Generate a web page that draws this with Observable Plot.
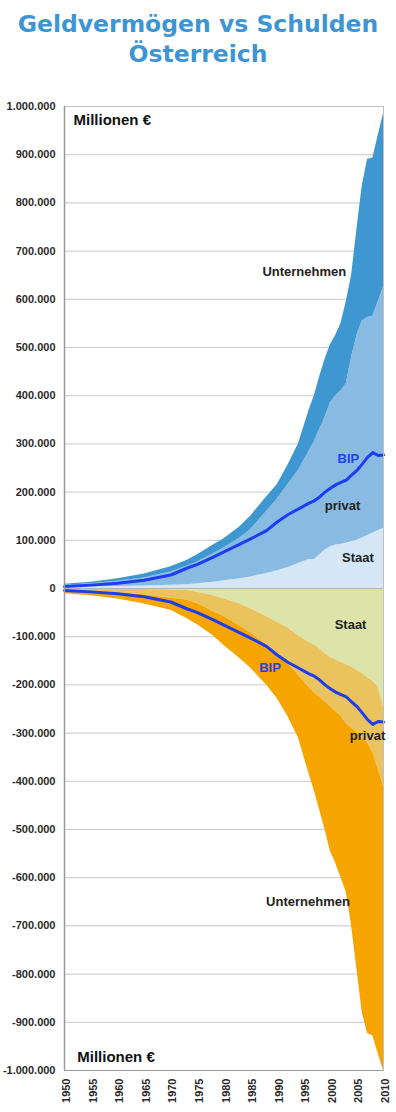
<!DOCTYPE html>
<html><head><meta charset="utf-8">
<script src="https://cdn.jsdelivr.net/npm/d3@7"></script>
<script src="https://cdn.jsdelivr.net/npm/@observablehq/plot@0.6"></script>
<style>
body{margin:0;background:#fff;width:396px;}
#title{height:80px;box-sizing:border-box;padding-top:9px;text-align:center;font:bold 23.5px/30px "DejaVu Sans",Verdana,sans-serif;color:#3d95d4;}
</style></head><body>
<div id="title">Geldvermögen vs Schulden<br>Österreich</div>
<div id="chart"></div>
<script>
// Millionen €
const years = [1950,1955,1960,1965,1970,1973,1975,1978,1980,1983,1985,1988,1990,1992,1994,1996,1997,1998,1999,2000,2001,2002,2003,2004,2005,2006,2007,2008,2009,2010];

// Geldvermögen (positive)
const vermStaat = [2000,3000,4000,5000,7000,8000,10000,13000,16000,20000,24000,31000,37000,43000,52000,60000,60000,70000,80000,86000,90000,92000,94000,97000,100000,105000,110000,115000,120000,125000];
const vermPrivat = [5000,7000,11000,17000,27000,38000,45000,59000,68000,85000,98000,129000,148000,172000,193000,225000,245000,260000,275000,299000,310000,318000,331000,383000,425000,450000,452000,450000,475000,500000];
const vermUnternehmen = [2000,3000,5000,8000,11000,12000,15000,18000,19000,23000,28000,30000,30000,40000,55000,85000,95000,110000,120000,120000,125000,140000,170000,170000,220000,280000,328000,328000,345000,360000];

// Schulden (shown negative)
const schuldStaat = [1000,1000,2000,2000,3000,4000,8000,15000,22000,32000,42000,58000,70000,82000,98000,112000,117000,125000,135000,143000,148000,153000,158000,163000,170000,176000,185000,192000,205000,245000];
const schuldPrivat = [3000,5000,7000,11000,17000,20000,23000,33000,36000,46000,50000,58000,65000,73000,82000,93000,100000,100000,100000,102000,107000,112000,122000,127000,130000,134000,135000,148000,170000,165000];
const schuldUnternehmen = [7000,9000,13000,19000,25000,38000,44000,50000,60000,67000,73000,84000,93000,110000,130000,180000,203000,235000,265000,300000,315000,335000,350000,410000,490000,570000,603000,588000,590000,590000];

// BIP
const bip = [4000,7000,11000,17000,28000,42000,50000,65000,76000,92000,103000,120000,138000,153000,165000,177000,182000,190000,200000,208000,215000,220000,225000,235000,245000,258000,272000,282000,276000,277000];

const xTicks = [1950,1955,1960,1965,1970,1975,1980,1985,1990,1995,2000,2005,2010];
const yTicks = [-1000000,-900000,-800000,-700000,-600000,-500000,-400000,-300000,-200000,-100000,0,100000,200000,300000,400000,500000,600000,700000,800000,900000,1000000];

const layerOrder = ["Staat+","privat+","Unternehmen+","Staat-","privat-","Unternehmen-"];
const layerColors = ["#d5e6f4","#88bae2","#3f97d1","#dde4a9","#eac35f","#f5a400"];

const labels = [
  {text:"Unternehmen", year:1995.1, value:656000, color:"#222"},
  {text:"BIP", year:2003.4, value:270000, color:"#2241e6"},
  {text:"privat", year:2002.3, value:172000, color:"#222"},
  {text:"Staat", year:2005.2, value:64000, color:"#222"},
  {text:"Staat", year:2003.8, value:-75000, color:"#222"},
  {text:"BIP", year:1988.65, value:-164000, color:"#2241e6"},
  {text:"privat", year:2007, value:-305000, color:"#222"},
  {text:"Unternehmen", year:1995.8, value:-651000, color:"#222"}
];
const unitLabels = [
  {text:"Millionen €", year:1951.7, value:972000},
  {text:"Millionen €", year:1952.4, value:-973000}
];

const rows = [];
years.forEach((yr,i)=>{
  rows.push({year:yr, layer:"Staat+", value:vermStaat[i]});
  rows.push({year:yr, layer:"privat+", value:vermPrivat[i]});
  rows.push({year:yr, layer:"Unternehmen+", value:vermUnternehmen[i]});
  rows.push({year:yr, layer:"Staat-", value:-schuldStaat[i]});
  rows.push({year:yr, layer:"privat-", value:-schuldPrivat[i]});
  rows.push({year:yr, layer:"Unternehmen-", value:-schuldUnternehmen[i]});
});
const bipPos = years.map((y,i)=>({year:y, v:bip[i]}));
const bipNeg = years.map((y,i)=>({year:y, v:-bip[i]}));

const de = d3.formatLocale({decimal:",", thousands:".", grouping:[3], currency:["","€"], minus:"-"});
const fmt = de.format(",d");

const chart = Plot.plot({
  width:396, height:1032,
  marginTop:26, marginBottom:42, marginLeft:64, marginRight:13,
  style:{fontFamily:"'Liberation Sans', Arial, sans-serif", fontSize:"11px", fontWeight:"bold", color:"#2a2a2a", background:"#fff"},
  x:{domain:[1950,2010], label:null},
  y:{domain:[-1000000,1000000], label:null},
  color:{domain:layerOrder, range:layerColors},
  marks:[
    Plot.ruleY(yTicks,{stroke:"#c8c8c8", strokeWidth:1}),
    Plot.areaY(rows,{x:"year", y:"value", fill:"layer", z:"layer", order:layerOrder}),
    Plot.ruleY([0],{stroke:"#b4b4b4"}),
    Plot.line(bipPos,{x:"year", y:"v", stroke:"#1e3cf0", strokeWidth:3, strokeLinejoin:"round"}),
    Plot.line(bipNeg,{x:"year", y:"v", stroke:"#1e3cf0", strokeWidth:3, strokeLinejoin:"round"}),
    Plot.frame({stroke:"#c0c0c0"}),
    Plot.ruleX([1950],{stroke:"#9a9a9a", strokeWidth:1.5}),
    Plot.ruleY([-1000000],{stroke:"#9a9a9a", strokeWidth:1}),
    Plot.axisY(yTicks,{tickFormat:fmt, tickSize:0, tickPadding:9, label:null}),
    Plot.axisX(xTicks,{tickFormat:d=>String(d), tickRotate:-90, tickSize:0, tickPadding:8, dx:2, label:null}),
    Plot.text(labels,{x:"year", y:"value", text:"text", fill:"color", fontSize:13, fontWeight:"bold"}),
    Plot.text(unitLabels,{x:"year", y:"value", text:"text", fill:"#111", fontSize:15, fontWeight:"bold", textAnchor:"start"})
  ]
});
document.getElementById("chart").appendChild(chart);
</script>
</body></html>
